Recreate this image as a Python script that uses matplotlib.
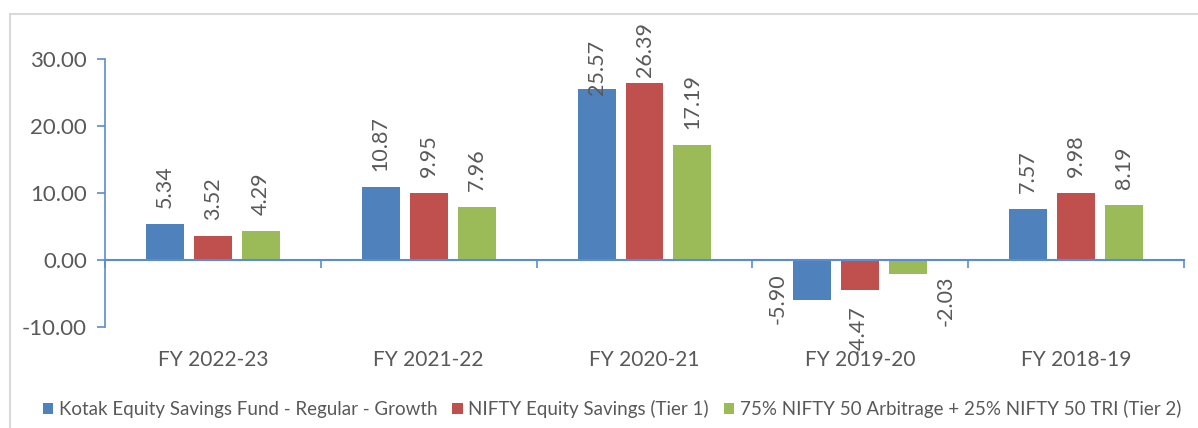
import matplotlib.pyplot as plt
import matplotlib.patches as mpatches
import numpy as np

plt.rcParams['font.family'] = ['Lato', 'DejaVu Sans']

categories = ['FY 2022-23', 'FY 2021-22', 'FY 2020-21', 'FY 2019-20', 'FY 2018-19']
series_names = ['Kotak Equity Savings Fund - Regular - Growth',
                'NIFTY Equity Savings (Tier 1)',
                '75% NIFTY 50 Arbitrage + 25% NIFTY 50 TRI (Tier 2)']
fund = [5.34, 10.87, 25.57, -5.90, 7.57]
tier1 = [3.52, 9.95, 26.39, -4.47, 9.98]
tier2 = [4.29, 7.96, 17.19, -2.03, 8.19]
yticks = [-10, 0, 10, 20, 30]

colors = ['#4F81BD', '#C0504D', '#9BBB59']
axis_blue = '#5B8BD0'
text_gray = '#595959'

fig = plt.figure(figsize=(11.98, 4.28), dpi=100)
ax = fig.add_axes([105 / 1198, 1 - 327 / 428, (1184 - 105) / 1198, (327 - 59) / 428])

# grey outer border like the Excel chart area
fig.patches.append(mpatches.Rectangle((10 / 1198, -0.1), 1.2, 1 - 14 / 428 + 0.1,
                                      transform=fig.transFigure, fill=False,
                                      edgecolor='#D9D9D9', linewidth=1.5, zorder=0))

x = np.arange(len(categories))
width = 0.176
step = 0.222
# label offsets in pixels for the odd ones (Excel moved them around)
special = {(0, 3): (-35, 1), (1, 3): (-3, -41), (2, 3): (37, -27),
           (0, 2): (0, -6), (1, 2): (0, 6)}

for i, (vals, c) in enumerate(zip([fund, tier1, tier2], colors)):
    xs = x + (i - 1) * step
    bars = ax.bar(xs, vals, width, color=c, label=series_names[i], zorder=2)
    for j, b in enumerate(bars):
        v = vals[j]
        bx = b.get_x() + b.get_width() / 2
        dx, dy = special.get((i, j), (0, 16))
        va = 'center' if v < 0 else 'bottom'
        ax.annotate(f'{v:.2f}', (bx, v), xytext=(dx, dy), textcoords='offset pixels',
                    rotation=90, ha='center', va=va, fontsize=15.5,
                    color=text_gray, annotation_clip=False)

ax.set_xlim(-0.5, len(categories) - 0.5)
ax.set_ylim(-10, 30)
ax.set_yticks(yticks)
ax.set_yticklabels([f'{t:.2f}' for t in yticks], fontsize=16, color=text_gray)
ax.tick_params(axis='y', direction='out', length=6, color=axis_blue, width=1.2, pad=7)

for s in ['top', 'right']:
    ax.spines[s].set_visible(False)
ax.spines['left'].set_color(axis_blue)
ax.spines['left'].set_linewidth(1.2)
ax.spines['bottom'].set_position(('data', 0))
ax.spines['bottom'].set_color(axis_blue)
ax.spines['bottom'].set_linewidth(1.5)
ax.spines['bottom'].set_zorder(3)

ax.set_xticks(np.arange(len(categories) + 1) - 0.5)
ax.set_xticklabels([])
ax.tick_params(axis='x', direction='out', length=6, color=axis_blue, width=1.2)

for j, cat in enumerate(categories):
    ax.annotate(cat, (j, 0), xycoords=('data', 'axes fraction'), xytext=(0, -33),
                textcoords='offset pixels', ha='center', va='center',
                fontsize=15, color=text_gray)

fig.legend(loc='center', bbox_to_anchor=(612 / 1198, 1 - 409 / 428), ncol=3,
           frameon=False, fontsize=13.5, handlelength=0.55, handleheight=0.55,
           handletextpad=0.3, columnspacing=0.8, labelcolor=text_gray,
           borderaxespad=0, borderpad=0)

fig.savefig('out.png', dpi=100)
